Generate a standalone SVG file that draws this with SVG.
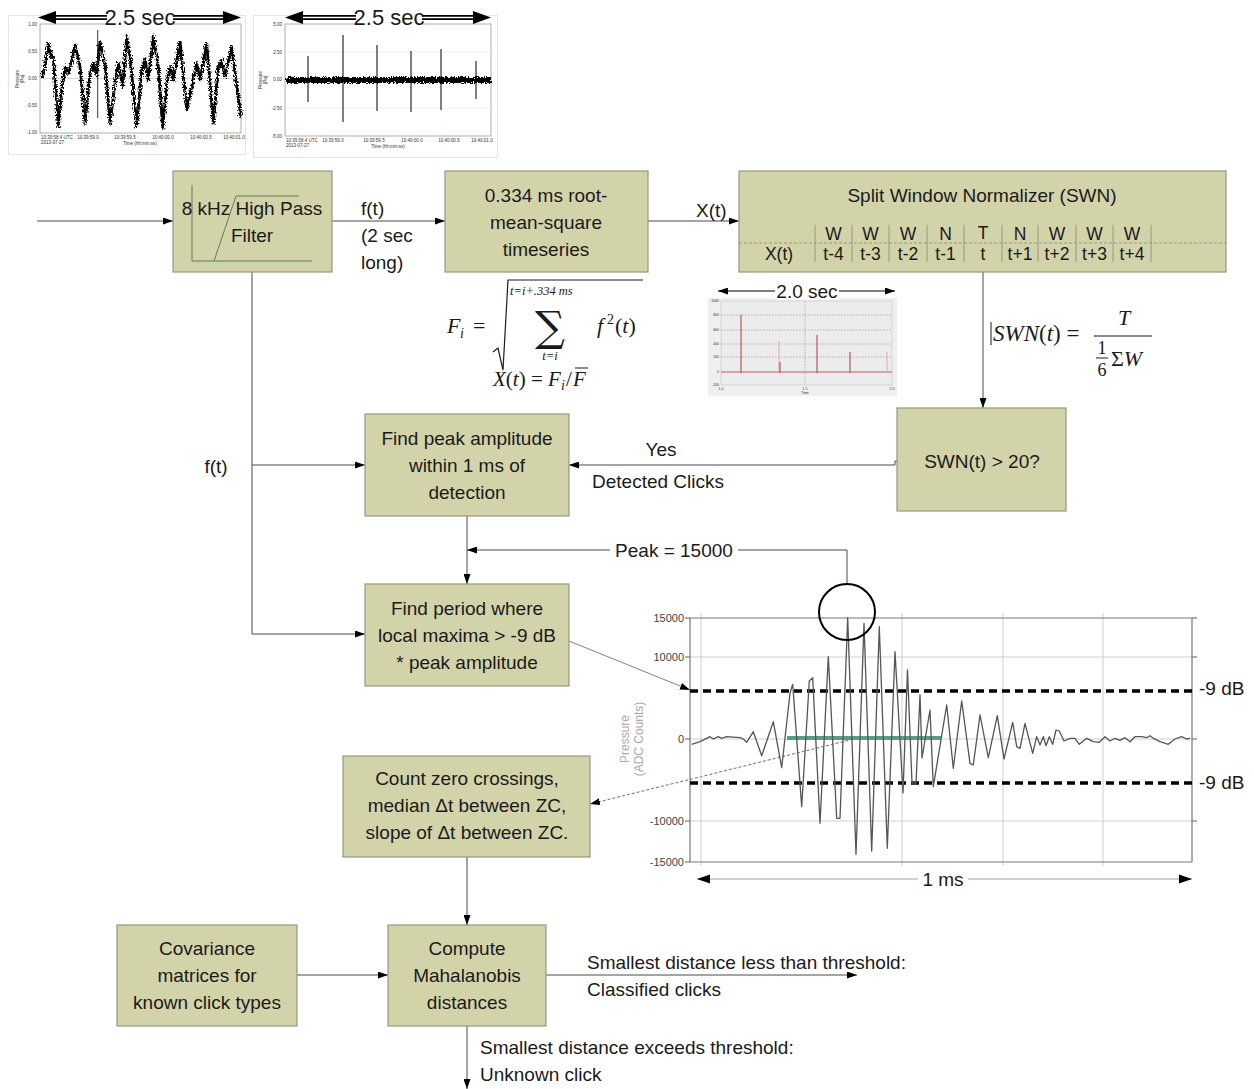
<svg xmlns="http://www.w3.org/2000/svg" width="1254" height="1089" viewBox="0 0 1254 1089">
<style>
.box{fill:#d3d3a9;stroke:#8e9c7e;stroke-width:1.2}
.t{font-family:"Liberation Sans",Arial,sans-serif;font-size:19px;fill:#1a1a1a}
.c{text-anchor:middle}
.tb{font-family:"Liberation Sans",Arial,sans-serif;font-size:17.5px;fill:#1a1a1a;text-anchor:middle}
.conn{stroke:#4a4a4a;stroke-width:1;fill:none}
.m{font-family:"Liberation Serif","DejaVu Serif",serif;fill:#1a1a1a}
.tiny{font-family:"Liberation Sans",Arial,sans-serif;font-size:4.5px;fill:#333}
.ax{font-family:"Liberation Sans",Arial,sans-serif;font-size:11px;fill:#444;text-anchor:end}
.grid{stroke:#cfcfcf;stroke-width:1}
.db{stroke:#000;stroke-width:3.5;stroke-dasharray:8 5;fill:none}
</style>
<defs>
<marker id="arr" viewBox="0 0 10 7" refX="10" refY="3.5" markerWidth="10" markerHeight="7" markerUnits="userSpaceOnUse" orient="auto"><path d="M0,0 L10,3.5 L0,7 z" fill="#000"/></marker>
<marker id="arrs" viewBox="0 0 10 7" refX="0" refY="3.5" markerWidth="10" markerHeight="7" markerUnits="userSpaceOnUse" orient="auto"><path d="M10,0 L0,3.5 L10,7 z" fill="#000"/></marker>
<filter id="noise" x="-5%" y="-10%" width="110%" height="120%">
<feTurbulence type="fractalNoise" baseFrequency="0.9 0.6" numOctaves="2" seed="3" result="n"/>
<feDisplacementMap in="SourceGraphic" in2="n" scale="6" xChannelSelector="R" yChannelSelector="G"/>
</filter>
</defs>
<rect width="1254" height="1089" fill="#fff"/>

<!-- Top plot 1 -->
<g id="plot1">
<rect x="8.5" y="15.5" width="237" height="139" fill="#fff" stroke="#e4e4e4"/>
<rect x="40" y="24" width="201" height="109" fill="#fff" stroke="#9a9a9a" stroke-width="0.8"/>
<line x1="40" y1="78.5" x2="241" y2="78.5" stroke="#bbb" stroke-width="0.6"/>
<g filter="url(#noise)">
<polyline fill="none" stroke="#000" stroke-width="2.8" stroke-linejoin="round" points="41.7,76.7 45,66.7 48.3,43.3 50,53 53.3,58.3 58.3,126.7 61.7,90 65,66.7 68.3,73.3 71.7,61.7 75,45 80,66.7 85,123.3 90,73.3 93.3,63.3 96.7,75 100,41.7 105,63.3 110,123.3 115,83.3 118.3,63.3 122.7,86.7 126.7,36.7 130,56.7 136.7,126.7 141.7,70 145,58.3 148.3,80 153.3,36.7 158.3,66.7 162.7,128.3 166.7,83.3 170,66.7 173.3,80 180,41.7 186.7,110 191.7,86.7 196.7,63.3 200,80 206.7,43.3 213.3,123.3 218.3,66.7 221.7,60 225,76.7 231.7,46.7 236.7,86.7 240.7,116.7"/>
<polyline fill="none" stroke="#000" stroke-width="1.2" stroke-linejoin="round" points="42.5,79 46,63 49,47 51,57 54,61 58,122 62,86 66,70 69,70 72,58 76,49 81,70 85,118 91,70 94,67 97,72 101,45 106,67 110,118 116,80 119,66 123,83 127,40 131,60 137,122 142,73 146,61 149,77 154,40 159,70 163,124 167,80 171,70 174,77 181,45 187,106 192,83 197,66 201,77 207,47 213,119 219,70 222,63 226,73 232,50 237,83 241,112"/>
</g>
<line x1="97.7" y1="30" x2="97.7" y2="118" stroke="#000" stroke-width="0.8"/>
<text class="tiny" x="37" y="26" text-anchor="end">1.00</text>
<text class="tiny" x="37" y="53" text-anchor="end">0.50</text>
<text class="tiny" x="37" y="80" text-anchor="end">0.00</text>
<text class="tiny" x="37" y="107" text-anchor="end">-0.50</text>
<text class="tiny" x="37" y="134" text-anchor="end">-1.00</text>
<text class="tiny" transform="translate(19,79) rotate(-90)" text-anchor="middle">Pressure</text>
<text class="tiny" transform="translate(24,79) rotate(-90)" text-anchor="middle">(Pa)</text>
<text class="tiny" x="41" y="139">10:39:58.4 UTC</text>
<text class="tiny" x="41" y="144">2013-07-27</text>
<text class="tiny" x="88" y="139" text-anchor="middle">10:39:59.0</text>
<text class="tiny" x="125" y="139" text-anchor="middle">10:39:59.5</text>
<text class="tiny" x="163" y="139" text-anchor="middle">10:40:00.0</text>
<text class="tiny" x="201" y="139" text-anchor="middle">10:40:00.5</text>
<text class="tiny" x="234" y="139" text-anchor="middle">10:40:01.0</text>
<text class="tiny" x="140" y="145" text-anchor="middle">Time (hh:mm:ss)</text>
<line x1="50" y1="17.5" x2="230" y2="17.5" stroke="#000" stroke-width="5"/>
<line x1="50" y1="17.5" x2="230" y2="17.5" stroke="#fff" stroke-width="1.6"/>
<polygon points="38,17.5 56,11 56,24" fill="#000"/>
<polygon points="241,17.5 223,11 223,24" fill="#000"/>
<rect x="107" y="6" width="66" height="24" fill="#fff"/>
<text class="t c" x="140" y="25" style="font-size:22px">2.5 sec</text>
</g>

<!-- Top plot 2 -->
<g id="plot2">
<rect x="253.5" y="15.5" width="244" height="142" fill="#fff" stroke="#e4e4e4"/>
<rect x="285" y="24" width="206" height="112" fill="#fff" stroke="#9a9a9a" stroke-width="0.8"/>
<line x1="285" y1="52" x2="491" y2="52" stroke="#ddd" stroke-width="0.5"/>
<line x1="285" y1="108" x2="491" y2="108" stroke="#ddd" stroke-width="0.5"/>
<g stroke="#000" stroke-width="1">
<line x1="308" y1="56" x2="308" y2="102"/>
<line x1="343" y1="35" x2="343" y2="122"/>
<line x1="377" y1="45" x2="377" y2="111"/>
<line x1="411" y1="51" x2="411" y2="112"/>
<line x1="441" y1="49" x2="441" y2="110"/>
<line x1="476" y1="61" x2="476" y2="99"/>
</g>
<g filter="url(#noise)">
<rect x="286" y="77" width="205" height="6" fill="#000"/>
</g>
<text class="tiny" x="282" y="26" text-anchor="end">5.00</text>
<text class="tiny" x="282" y="54" text-anchor="end">2.50</text>
<text class="tiny" x="282" y="81" text-anchor="end">0.00</text>
<text class="tiny" x="282" y="110" text-anchor="end">-2.50</text>
<text class="tiny" x="282" y="138" text-anchor="end">-5.00</text>
<text class="tiny" transform="translate(262,80) rotate(-90)" text-anchor="middle">Pressure</text>
<text class="tiny" transform="translate(267,80) rotate(-90)" text-anchor="middle">(Pa)</text>
<text class="tiny" x="286" y="142">10:39:58.4 UTC</text>
<text class="tiny" x="286" y="147">2013-07-27</text>
<text class="tiny" x="333" y="142" text-anchor="middle">10:39:59.0</text>
<text class="tiny" x="374" y="142" text-anchor="middle">10:39:59.5</text>
<text class="tiny" x="412" y="142" text-anchor="middle">10:40:00.0</text>
<text class="tiny" x="449" y="142" text-anchor="middle">10:40:00.5</text>
<text class="tiny" x="482" y="142" text-anchor="middle">10:40:01.0</text>
<text class="tiny" x="388" y="148" text-anchor="middle">Time (hh:mm:ss)</text>
<line x1="296" y1="17.5" x2="480" y2="17.5" stroke="#000" stroke-width="5"/>
<line x1="296" y1="17.5" x2="480" y2="17.5" stroke="#fff" stroke-width="1.6"/>
<polygon points="285,17.5 303,11 303,24" fill="#000"/>
<polygon points="491,17.5 473,11 473,24" fill="#000"/>
<rect x="356" y="6" width="66" height="24" fill="#fff"/>
<text class="t c" x="389" y="25" style="font-size:22px">2.5 sec</text>
</g>

<!-- Connectors -->
<g id="connectors">
<line class="conn" x1="37" y1="221" x2="173" y2="221" marker-end="url(#arr)"/>
<line class="conn" x1="332" y1="221" x2="445" y2="221" marker-end="url(#arr)"/>
<line class="conn" x1="648" y1="221" x2="739" y2="221" marker-end="url(#arr)"/>
<line class="conn" x1="983" y1="272" x2="983" y2="408" marker-end="url(#arr)"/>
<polyline class="conn" points="252,272 252,634 365,634" marker-end="url(#arr)"/>
<line class="conn" x1="252" y1="465" x2="365" y2="465" marker-end="url(#arr)"/>
<polyline class="conn" points="897,461 895,461 895,465 569,465" marker-end="url(#arr)"/>
<line class="conn" x1="467" y1="516" x2="467" y2="584" marker-end="url(#arr)"/>
<polyline class="conn" points="847,584 847,550 467,550" marker-end="url(#arr)"/>
<line x1="569" y1="641" x2="690" y2="690" stroke="#4a4a4a" stroke-width="0.7" marker-end="url(#arr)"/>
<line x1="858" y1="738" x2="590" y2="804" stroke="#4a4a4a" stroke-width="0.8" stroke-dasharray="3 2" marker-end="url(#arr)"/>
<line class="conn" x1="467" y1="857" x2="467" y2="925" marker-end="url(#arr)"/>
<line class="conn" x1="297" y1="975" x2="388" y2="975" marker-end="url(#arr)"/>
<line class="conn" x1="546" y1="975" x2="857" y2="975" marker-end="url(#arr)"/>
<line class="conn" x1="467" y1="1026" x2="467" y2="1089" marker-end="url(#arr)"/>
</g>

<!-- Connector labels -->
<text class="t" x="361" y="215">f(t)</text>
<text class="t" x="361" y="242">(2 sec</text>
<text class="t" x="361" y="269">long)</text>
<text class="t" x="696" y="217">X(t)</text>
<text class="t" x="216" y="473" text-anchor="middle">f(t)</text>
<text class="t c" x="661" y="456">Yes</text>
<text class="t c" x="658" y="488">Detected Clicks</text>
<rect x="610" y="538" width="128" height="24" fill="#fff"/>
<text class="t c" x="674" y="557">Peak = 15000</text>
<text class="t" x="587" y="969">Smallest distance less than threshold:</text>
<text class="t" x="587" y="996">Classified clicks</text>
<text class="t" x="480" y="1054">Smallest distance exceeds threshold:</text>
<text class="t" x="480" y="1081">Unknown click</text>

<!-- Nodes -->
<g id="hpf">
<rect class="box" x="173" y="171" width="159" height="101"/>
<g stroke="#5f7d5f" stroke-width="1" fill="none">
<polyline points="192,185 192,261 312,261"/>
<polyline points="214,261 236,196 299,196"/>
</g>
<text class="t c" x="252" y="215">8 kHz High Pass</text>
<text class="t c" x="252" y="242">Filter</text>
</g>

<g id="rms">
<rect class="box" x="445" y="171" width="203" height="101"/>
<text class="t c" x="546" y="202">0.334 ms root-</text>
<text class="t c" x="546" y="229">mean-square</text>
<text class="t c" x="546" y="256">timeseries</text>
</g>

<g id="swn">
<rect class="box" x="739" y="171" width="487" height="101"/>
<text class="t c" x="982" y="202">Split Window Normalizer (SWN)</text>
<line x1="739" y1="243" x2="1226" y2="243" stroke="#8a8a70" stroke-width="0.8" stroke-dasharray="3 2"/>
<g stroke="#8e9c7e" stroke-width="1">
<line x1="815" y1="225" x2="815" y2="262"/><line x1="852" y1="225" x2="852" y2="262"/><line x1="889" y1="225" x2="889" y2="262"/><line x1="927" y1="225" x2="927" y2="262"/><line x1="964" y1="225" x2="964" y2="262"/><line x1="1002" y1="225" x2="1002" y2="262"/><line x1="1038" y1="225" x2="1038" y2="262"/><line x1="1076" y1="225" x2="1076" y2="262"/><line x1="1113" y1="225" x2="1113" y2="262"/><line x1="1151" y1="225" x2="1151" y2="262"/>
</g>
<g class="tb">
<text x="833.5" y="240">W</text><text x="870.5" y="240">W</text><text x="908" y="240">W</text><text x="945.5" y="240">N</text><text x="983" y="239">T</text><text x="1020" y="240">N</text><text x="1057" y="240">W</text><text x="1094.5" y="240">W</text><text x="1132" y="240">W</text>
</g>
<g class="tb">
<text x="779" y="260">X(t)</text>
<text x="833.5" y="260">t-4</text><text x="870.5" y="260">t-3</text><text x="908" y="260">t-2</text><text x="945.5" y="260">t-1</text><text x="983" y="260">t</text><text x="1020" y="260">t+1</text><text x="1057" y="260">t+2</text><text x="1094.5" y="260">t+3</text><text x="1132" y="260">t+4</text>
</g>
</g>

<g id="swn-test">
<rect class="box" x="897" y="408" width="169" height="103"/>
<text class="t c" x="982" y="468">SWN(t) &gt; 20?</text>
</g>

<g id="find-peak">
<rect class="box" x="365" y="414" width="204" height="102"/>
<text class="t c" x="467" y="445">Find peak amplitude</text>
<text class="t c" x="467" y="472">within 1 ms of</text>
<text class="t c" x="467" y="499">detection</text>
</g>

<g id="find-period">
<rect class="box" x="365" y="584" width="204" height="102"/>
<text class="t c" x="467" y="615">Find period where</text>
<text class="t c" x="467" y="642">local maxima &gt; -9 dB</text>
<text class="t c" x="467" y="669">* peak amplitude</text>
</g>

<g id="count-zc">
<rect class="box" x="343" y="756" width="247" height="101"/>
<text class="t c" x="467" y="785">Count zero crossings,</text>
<text class="t c" x="467" y="812">median Δt between ZC,</text>
<text class="t c" x="467" y="839">slope of Δt between ZC.</text>
</g>

<g id="covariance">
<rect class="box" x="117" y="925" width="180" height="101"/>
<text class="t c" x="207" y="955">Covariance</text>
<text class="t c" x="207" y="982">matrices for</text>
<text class="t c" x="207" y="1009">known click types</text>
</g>

<g id="mahalanobis">
<rect class="box" x="388" y="925" width="158" height="101"/>
<text class="t c" x="467" y="955">Compute</text>
<text class="t c" x="467" y="982">Mahalanobis</text>
<text class="t c" x="467" y="1009">distances</text>
</g>

<!-- RMS formula -->
<g id="rms-formula">
<text class="m" x="447" y="333" style="font-size:22px;font-style:italic">F</text>
<text class="m" x="460" y="338" style="font-size:14px;font-style:italic">i</text>
<text class="m" x="473" y="333" style="font-size:22px">=</text>
<path d="M493,352 L498,348 L503,370 L508,280 L643,280" fill="none" stroke="#1a1a1a" stroke-width="1.2"/>
<text class="m" x="510" y="295" style="font-size:12.5px;font-style:italic">t=i+.334 ms</text>
<text x="550" y="341" font-size="42" text-anchor="middle" font-family="'DejaVu Serif',serif" fill="#1a1a1a">∑</text>
<text class="m" x="550" y="360" text-anchor="middle" style="font-size:12.5px;font-style:italic">t=i</text>
<text class="m" x="597" y="333" style="font-size:22px;font-style:italic">f</text>
<text class="m" x="607" y="324" style="font-size:14px">2</text>
<text class="m" x="615" y="333" style="font-size:22px">(<tspan font-style="italic">t</tspan>)</text>
<text class="m" x="493" y="386" style="font-size:21px"><tspan font-style="italic">X</tspan>(<tspan font-style="italic">t</tspan>) = <tspan font-style="italic">F</tspan></text>
<text class="m" x="561" y="390" style="font-size:14px;font-style:italic">i</text>
<text class="m" x="566" y="386" style="font-size:21px">/</text>
<text class="m" x="573" y="386" style="font-size:21px;font-style:italic">F</text>
<line x1="575" y1="368" x2="588" y2="368" stroke="#1a1a1a" stroke-width="1"/>
</g>

<!-- 2.0 sec plot -->
<g id="plot3">
<rect x="708" y="298" width="189" height="98" fill="#efefef"/>
<rect x="721" y="301" width="171" height="84" fill="#ececec" stroke="#bbb" stroke-width="0.5"/>
<g stroke="#777" stroke-width="0.5" stroke-dasharray="1.5 1.5">
<line x1="721" y1="315" x2="892" y2="315"/><line x1="721" y1="330" x2="892" y2="330"/><line x1="721" y1="344" x2="892" y2="344"/><line x1="721" y1="357" x2="892" y2="357"/><line x1="805" y1="301" x2="805" y2="385"/>
</g>
<line x1="721" y1="372" x2="892" y2="372" stroke="#b04040" stroke-width="0.8"/>
<g stroke="#b03a3a" stroke-width="1">
<line x1="741" y1="315" x2="741" y2="373"/>
<line x1="779" y1="341" x2="779" y2="373" stroke="#e6a6a6"/>
<line x1="780" y1="362" x2="780" y2="373"/>
<line x1="817" y1="335" x2="817" y2="373"/>
<line x1="850" y1="352" x2="850" y2="373"/>
<line x1="887" y1="352" x2="887" y2="373" stroke="#e6a6a6"/>
</g>
<g class="tiny" style="font-size:3.5px" text-anchor="end">
<text x="719" y="302">1000</text><text x="719" y="316">800</text><text x="719" y="331">600</text><text x="719" y="345">400</text><text x="719" y="358">200</text><text x="719" y="373">0</text><text x="719" y="386">-200</text>
</g>
<g class="tiny" style="font-size:3.5px" text-anchor="middle">
<text x="721" y="390">1.0</text><text x="805" y="390">1.5</text><text x="892" y="390">2.0</text><text x="805" y="394">Time</text>
</g>
<line x1="718" y1="291" x2="895" y2="291" stroke="#000" stroke-width="1" marker-start="url(#arrs)" marker-end="url(#arr)"/>
<rect x="775" y="280" width="64" height="20" fill="#fff"/>
<text class="t c" x="807" y="298">2.0 sec</text>
</g>

<!-- SWN formula -->
<g id="swn-formula">
<line x1="991" y1="322" x2="991" y2="345" stroke="#1a1a1a" stroke-width="1"/>
<text class="m" x="993" y="341" style="font-size:23px"><tspan font-style="italic">SWN</tspan>(<tspan font-style="italic">t</tspan>) =</text>
<text class="m" x="1124" y="325" text-anchor="middle" style="font-size:22px;font-style:italic">T</text>
<line x1="1094" y1="336" x2="1152" y2="336" stroke="#1a1a1a" stroke-width="1.2"/>
<text class="m" x="1102" y="354" text-anchor="middle" style="font-size:18px">1</text>
<line x1="1096" y1="358" x2="1108" y2="358" stroke="#1a1a1a" stroke-width="1"/>
<text class="m" x="1102" y="376" text-anchor="middle" style="font-size:18px">6</text>
<text class="m" x="1111" y="366" style="font-size:22px">Σ<tspan font-style="italic">W</tspan></text>
</g>

<!-- Click waveform chart -->
<g id="click-chart">
<g class="grid">
<line x1="690" y1="657" x2="1192" y2="657"/>
<line x1="690" y1="739" x2="1192" y2="739"/>
<line x1="690" y1="821" x2="1192" y2="821"/>
<line x1="701" y1="613" x2="701" y2="866"/>
<line x1="902" y1="613" x2="902" y2="866"/>
<line x1="1003" y1="613" x2="1003" y2="866"/>
<line x1="1103" y1="613" x2="1103" y2="866"/>
</g>
<g stroke="#777" stroke-width="1.2" fill="none">
<line x1="690" y1="618" x2="1192" y2="618"/>
<line x1="690" y1="862" x2="1192" y2="862"/>
<line x1="690" y1="618" x2="690" y2="862"/>
<line x1="1192" y1="618" x2="1192" y2="862"/>
<line x1="685" y1="618" x2="690" y2="618"/><line x1="685" y1="657" x2="690" y2="657"/><line x1="685" y1="739" x2="690" y2="739"/><line x1="685" y1="821" x2="690" y2="821"/><line x1="685" y1="862" x2="690" y2="862"/>
<line x1="1192" y1="657" x2="1197" y2="657"/><line x1="1192" y1="739" x2="1197" y2="739"/><line x1="1192" y1="821" x2="1197" y2="821"/><line x1="1192" y1="618" x2="1197" y2="618"/>
</g>
<text class="ax" x="684" y="622">15000</text>
<text class="ax" x="684" y="661">10000</text>
<text class="ax" x="684" y="743">0</text>
<text class="ax" x="684" y="825">-10000</text>
<text class="ax" x="684" y="866">-15000</text>
<text transform="translate(629,739) rotate(-90)" text-anchor="middle" font-family="'Liberation Sans',Arial,sans-serif" font-size="12" fill="#a8a8a8">Pressure</text>
<text transform="translate(643,739) rotate(-90)" text-anchor="middle" font-family="'Liberation Sans',Arial,sans-serif" font-size="12" fill="#a8a8a8">(ADC Counts)</text>
<line class="db" x1="690" y1="691" x2="1192" y2="691"/>
<line class="db" x1="690" y1="783" x2="1192" y2="783"/>
<line x1="787" y1="738" x2="941" y2="738" stroke="#5a9e82" stroke-width="4"/>
<polyline fill="none" stroke="#555" stroke-width="1.3" stroke-linejoin="round" points="691.7,744.3 700,741.7 710,736.7 713.3,739 718.3,736.7 721.7,738.3 726.7,736.7 740,737.7 743.3,739 746.7,742.3 753.3,731.7 761.7,755.7 773.3,721.7 781.7,767.7 790,693.3 792.7,684.3 801.7,806.7 809.3,681 812.7,677.7 820,823.3 828.3,656.7 836.7,818.3 840,818.3 847.7,617.7 856,854.3 864,623.3 871.7,851 879.3,626.7 887.3,848.3 895,651.7 903,793 907.5,670 912,783 916,783 920,695 922,758 930,710 933.3,786.7 946.7,705 953.3,768.3 961.7,701 970,763.3 973.3,765 980,715 988.3,757.7 997.3,715.7 1004,759 1012.7,722.3 1016.7,746.7 1020,748.3 1025,723.3 1032.7,753.3 1036.7,736.7 1040,745 1043.3,736.7 1046,745.7 1049.3,736.7 1052.7,744.3 1056,730 1059.3,731 1064,741 1070,738.3 1075,738.3 1079.3,744.3 1086.7,738.3 1093.3,741.7 1099.3,742.3 1105,736.7 1110,741 1115,738.3 1120,740.3 1125,737.7 1130,741.7 1135,736.7 1141.7,736.7 1146.7,737.7 1150,735.7 1153.3,738.3 1160,741.7 1168.3,744.3 1175,739 1181.7,736.7 1186.7,739 1190,738.3"/>
<circle cx="847" cy="612" r="28" fill="none" stroke="#000" stroke-width="2"/>
<text class="t" x="1199" y="695">-9 dB</text>
<text class="t" x="1199" y="789">-9 dB</text>
<line x1="697" y1="879" x2="1192" y2="879" stroke="#888" stroke-width="0.8"/>
<polygon points="697,879 710,874.5 710,883.5" fill="#000"/>
<polygon points="1192,879 1179,874.5 1179,883.5" fill="#000"/>
<rect x="918" y="868" width="50" height="22" fill="#fff"/>
<text class="t c" x="943" y="886">1 ms</text>
</g>
</svg>
